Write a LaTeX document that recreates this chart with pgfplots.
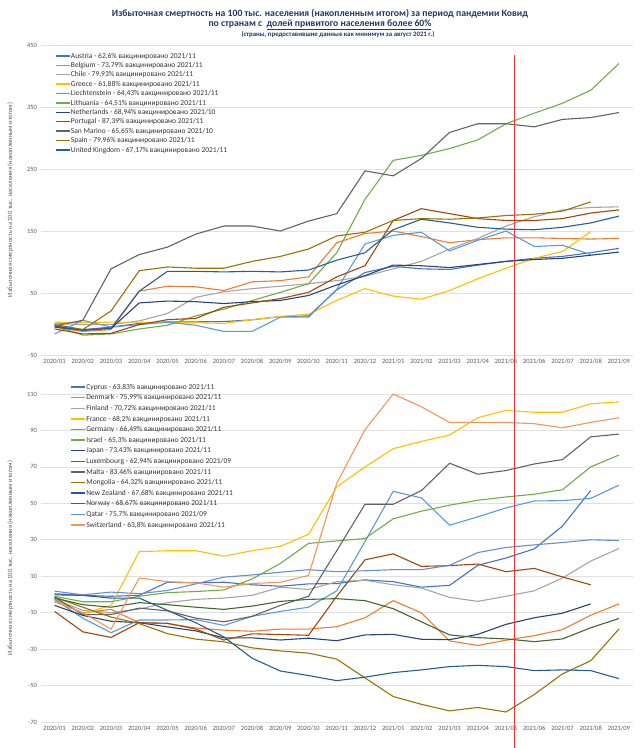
\documentclass[border=0pt]{standalone}
\usepackage{fontspec}
\setmainfont{Carlito}
\usepackage{pgfplots}
\pgfplotsset{compat=1.18}
\usepackage{pgfplotstable}
\definecolor{c1}{HTML}{4472C4}
\definecolor{c2}{HTML}{ED7D31}
\definecolor{c3}{HTML}{A5A5A5}
\definecolor{c4}{HTML}{FFC000}
\definecolor{c5}{HTML}{5B9BD5}
\definecolor{c6}{HTML}{70AD47}
\definecolor{c7}{HTML}{264478}
\definecolor{c8}{HTML}{9E480E}
\definecolor{c9}{HTML}{636363}
\definecolor{c10}{HTML}{997300}
\definecolor{c11}{HTML}{255E91}
\definecolor{c12}{HTML}{43682B}
\definecolor{c13}{HTML}{698ED0}
\definecolor{c14}{HTML}{F1975A}
\definecolor{titleblue}{HTML}{203864}
\definecolor{labgray}{HTML}{595959}
\definecolor{vline}{HTML}{EE3333}

\pgfplotstableread{
x Austria Belgium Chile Greece Liechtenstein Lithuania Netherlands Portugal SanMarino Spain UK
0 -1 -5 1 3 -16 -3 -3 -8 -3 -2 -5
1 -9 -12 -1 2 6 -18 -10 -16 6 -9 -10
2 -5 -9 -1 3 -5 -16 -7 -15 89 21 -7
3 1 53 5 3 -1 -8 34 -1 112 86 53
4 3.5 61 17 2 3 -2 37 7 124 92 85
5 3.5 60 43 2 -2 13 36 9 145 90 85
6 4 54 52 1 -12 24 33 27 158 90 84
7 6.7 68 57 7 -12 38 36 34 158 101 85
8 12 70 61 12 11 51 38 41 150 109 84
9 13 76 65 16 11 65 46 51 166 121 87
10 55 131 70 38 56 115 63 76 178 142 103
11 83 146 77 57 129 201 78 94 247 148 115
12 93 150 89 45 143 264 95 167 239 167 152
13 89 141 101 40 148 272 94 186 267 170 169
14 88 131 121 54 118 283 91 178 309 169 163
15 95 136 138 73 135 297 96 170 323 171 156
16 101 139 158 90 150 323 101 167 323 175 153
17 106 139 173 106 125 340 104 167 318 177 152
18 109 138 184 117 127 356 106 170 330 182 156
19 115 137 188 149 112 377 111 179 333 197 163
20 122 138 189 nan nan 420 116 184 341 nan 174
}\topdata

\pgfplotstableread{
x Cyprus Denmark Finland France Germany Israel Japan Luxembourg Malta Mongolia NewZealand Norway Qatar Switzerland
0 0.4 -3.8 -2.7 -2.7 -2.7 -1 -6 -9.3 -1.5 -1.5 -0.2 -2 1.8 -4
1 -0.5 -10 -8.7 -10.5 -13 -4 -11.5 -20.5 -11 -7 -0.5 -5.6 -0.2 -10
2 -1 -8.2 -10 -6 -21 -4 -14.7 -23.6 -11 -12.4 -2 -7 1.3 -19
3 -0.5 -15.5 -8 23.5 -14 -1 -15.5 -15.5 -7.5 -16 -2 -4.5 0.4 9
4 6.7 -16 -4.5 24 -14 1 -17.8 -15.8 -9 -21.5 -8.7 -5.6 2.2 7
5 6.4 -18.4 -2.7 24 -13.8 1.6 -20 -19 -13 -24.5 -15.5 -7 5.8 6.4
6 6.7 -19.6 -2 21 -17 2.5 -23.8 -25 -15 -26 -23.3 -8.2 9.5 4
7 5.3 -20.2 -0.5 24 -12 8.5 -23.8 -21.6 -12 -29.3 -35 -6.4 10.7 6
8 4.5 -19 4 26.4 -9.3 17 -25 -22 -6 -31 -42 -3.8 12.2 6.7
9 5.8 -19 2.7 33 -7 28 -24 -22.4 -1 -32.2 -44.5 -2.7 13.6 10.4
10 6 -17.7 7 59 2 29.4 -25.4 -1 24 -35.5 -47.3 -2.3 12.5 61
11 8 -12.8 7.8 70 29 30.7 -22.2 19 49.5 -45.8 -45.4 -3.4 13 90.4
12 7 -3.4 5.3 80 56.6 41.5 -21.9 22.3 49.5 -56 -42.9 -7.8 13.6 110
13 4 -10.1 3.5 84 53 45.7 -24.6 15.4 57 -60.3 -41.4 -15 13.6 103
14 5 -25.5 -1.6 87.5 38 49 -24.8 15.8 72 -63.9 -39.6 -22.2 16 94.4
15 16 -28 -3.8 97 42.6 51.7 -21.9 16.7 66 -62 -38.9 -23.7 23 94.4
16 20 -25.1 -1 101 47.5 53.5 -16.4 12.5 68 -64.5 -39.6 -24.4 25.8 94.4
17 25 -22.6 2 100 51.3 55 -12.8 14.3 71.6 -54.9 -41.8 -25.9 27.2 93.7
18 37.5 -19.3 9 100 51.5 57.5 -10.3 9.6 74 -43.6 -41.4 -24.4 28.5 91.5
19 57 -11.4 18.3 104.6 52.7 70 -5.2 5.3 86.5 -36.4 -41.8 -18.3 30 94.4
20 nan -5.2 25.2 105.7 60 76.5 nan nan 88 -19 -46.2 -13.2 29.6 97
}\botdata

\pgfplotsset{
  myaxis/.style={
    scale only axis,
    width=592.5pt,
    xmin=-0.5, xmax=20.5,
    xtick={0,...,20},
    xticklabels={2020/01,2020/02,2020/03,2020/04,2020/05,2020/06,2020/07,2020/08,2020/09,2020/10,2020/11,2020/12,2021/01,2021/02,2021/03,2021/04,2021/05,2021/06,2021/07,2021/08,2021/09},
    ymajorgrids,
    grid style={draw=black!12, line width=0.6pt},
    axis line style={draw=none},
    major tick length=0pt,
    clip=false,
    tick label style={font=\fontsize{6.5}{7}\selectfont, text=labgray},
    /pgf/number format/assume math mode=true,
    /pgf/number format/1000 sep={},
    ylabel={Избыточная смертность на 100 тыс. населения (накопленным итогом)},
    ylabel style={font=\fontsize{6.5}{7}\selectfont, text=labgray, yshift=7pt},
    every axis plot/.append style={line width=1.1pt, mark=none},
    unbounded coords=discard,
    legend cell align=left,
    legend image code/.code={\draw[##1, line width=1.4pt] (0pt,0pt) -- (14pt,0pt);},
    legend style={draw=none, fill=none, anchor=north west,
      font=\fontsize{7.5}{8}\selectfont, text=black!80,
      nodes={inner sep=0.6pt, text height=5.6pt, text depth=1.4pt}},
  }
}

\begin{document}
\begin{tikzpicture}
\path[use as bounding box] (0pt,0pt) rectangle (640pt,-748pt);

\node[font=\bfseries\fontsize{9.7}{10}\selectfont, text=titleblue] at (320pt,-14pt)
  {Избыточная смертность на 100 тыс. населения (накопленным итогом) за период пандемии Ковид};
\node[font=\bfseries\fontsize{9.7}{10}\selectfont, text=titleblue] at (320pt,-25pt)
  {по странам с \ \underline{долей привитого населения более 60\%}};
\node[font=\bfseries\fontsize{6.8}{7}\selectfont, text=titleblue] at (338pt,-35pt)
  {(страны, предоставившие данные как минимум за август 2021 г.)};

\begin{axis}[myaxis,
  at={(40.5pt,-355pt)}, anchor=south west,
  height=310pt,
  ymin=-50, ymax=450, ytick={-50,50,...,450},
  legend style={at={(0.019,0.985)}, row sep=1.2pt},
]
\addplot[c1] table[x=x,y=Austria]{\topdata};\addlegendentry{Austria - 62,6\% вакцинировано 2021/11}
\addplot[c2] table[x=x,y=Belgium]{\topdata};\addlegendentry{Belgium - 73,79\% вакцинировано 2021/11}
\addplot[c3] table[x=x,y=Chile]{\topdata};\addlegendentry{Chile - 79,93\% вакцинировано 2021/11}
\addplot[c4] table[x=x,y=Greece]{\topdata};\addlegendentry{Greece - 61,88\% вакцинировано 2021/11}
\addplot[c5] table[x=x,y=Liechtenstein]{\topdata};\addlegendentry{Liechtenstein - 64,43\% вакцинировано 2021/11}
\addplot[c6] table[x=x,y=Lithuania]{\topdata};\addlegendentry{Lithuania - 64,51\% вакцинировано 2021/11}
\addplot[c7] table[x=x,y=Netherlands]{\topdata};\addlegendentry{Netherlands - 68,94\% вакцинировано 2021/10}
\addplot[c8] table[x=x,y=Portugal]{\topdata};\addlegendentry{Portugal - 87,39\% вакцинировано 2021/11}
\addplot[c9] table[x=x,y=SanMarino]{\topdata};\addlegendentry{San Marino - 65,65\% вакцинировано 2021/10}
\addplot[c10] table[x=x,y=Spain]{\topdata};\addlegendentry{Spain - 79,96\% вакцинировано 2021/11}
\addplot[c11] table[x=x,y=UK]{\topdata};\addlegendentry{United Kingdom - 67,17\% вакцинировано 2021/11}
\addplot[vline, line width=1.5pt, forget plot] coordinates {(16.3,434) (16.3,-113)};
\end{axis}

\begin{axis}[myaxis,
  at={(40.5pt,-722pt)}, anchor=south west,
  height=328pt,
  ymin=-70, ymax=110, ytick={-70,-50,...,110},
  legend style={at={(0.045,1.04)}, row sep=2.4pt},
]
\addplot[c1] table[x=x,y=Cyprus]{\botdata};\addlegendentry{Cyprus - 63,83\% вакцинировано 2021/11}
\addplot[c2] table[x=x,y=Denmark]{\botdata};\addlegendentry{Denmark - 75,99\% вакцинировано 2021/11}
\addplot[c3] table[x=x,y=Finland]{\botdata};\addlegendentry{Finland - 70,72\% вакцинировано 2021/11}
\addplot[c4] table[x=x,y=France]{\botdata};\addlegendentry{France - 68,2\% вакцинировано 2021/11}
\addplot[c5] table[x=x,y=Germany]{\botdata};\addlegendentry{Germany - 66,49\% вакцинировано 2021/11}
\addplot[c6] table[x=x,y=Israel]{\botdata};\addlegendentry{Israel - 65,3\% вакцинировано 2021/11}
\addplot[c7] table[x=x,y=Japan]{\botdata};\addlegendentry{Japan - 73,43\% вакцинировано 2021/11}
\addplot[c8] table[x=x,y=Luxembourg]{\botdata};\addlegendentry{Luxembourg - 62,94\% вакцинировано 2021/09}
\addplot[c9] table[x=x,y=Malta]{\botdata};\addlegendentry{Malta - 83,46\% вакцинировано 2021/11}
\addplot[c10] table[x=x,y=Mongolia]{\botdata};\addlegendentry{Mongolia - 64,32\% вакцинировано 2021/11}
\addplot[c11] table[x=x,y=NewZealand]{\botdata};\addlegendentry{New Zealand - 67,68\% вакцинировано 2021/11}
\addplot[c12] table[x=x,y=Norway]{\botdata};\addlegendentry{Norway - 68,67\% вакцинировано 2021/11}
\addplot[c13] table[x=x,y=Qatar]{\botdata};\addlegendentry{Qatar - 75,7\% вакцинировано 2021/09}
\addplot[c14] table[x=x,y=Switzerland]{\botdata};\addlegendentry{Switzerland - 63,8\% вакцинировано 2021/11}
\addplot[vline, line width=1.5pt, forget plot] coordinates {(16.3,110) (16.3,-84.3)};
\end{axis}
\end{tikzpicture}
\end{document}
